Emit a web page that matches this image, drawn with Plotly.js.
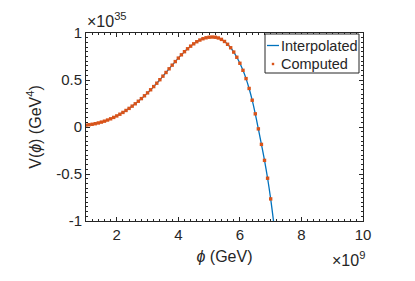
<!DOCTYPE html>
<html>
<head>
<meta charset="utf-8">
<script src="https://cdn.plot.ly/plotly-3.0.1.min.js"></script>
<style>
html,body{margin:0;padding:0;background:#fff;}
#chart{width:415px;height:281px;}
</style>
</head>
<body>
<div id="chart"></div>
<script>
// phi in units of 1e9 GeV, V in units of 1e35 GeV^4
const phi = [1.0,1.1,1.2,1.3,1.4,1.5,1.6,1.7,1.8,1.9,
             2.0,2.1,2.2,2.3,2.4,2.5,2.6,2.7,2.8,2.9,
             3.0,3.1,3.2,3.3,3.4,3.5,3.6,3.7,3.8,3.9,
             4.0,4.1,4.2,4.3,4.4,4.5,4.6,4.7,4.8,4.9,
             5.0,5.1,5.2,5.3,5.4,5.5,5.6,5.7,5.8,5.9,
             6.0,6.1,6.2,6.3,6.4,6.5,6.6,6.7,6.8,6.9,
             7.0,7.1];
const vComputed = [0.020,0.024,0.029,0.035,0.043,0.052,0.062,0.074,0.087,0.102,
                   0.118,0.136,0.155,0.176,0.198,0.222,0.247,0.274,0.302,0.332,
                   0.363,0.396,0.430,0.466,0.503,0.541,0.580,0.619,0.658,0.696,
                   0.733,0.768,0.801,0.832,0.860,0.885,0.907,0.925,0.939,0.949,
                   0.955,0.957,0.955,0.947,0.932,0.910,0.880,0.843,0.797,0.742,
                   0.678,0.603,0.515,0.410,0.285,0.140,-0.020,-0.185,-0.355,-0.545,
                   -0.765,-1.020];
const xTickVals = [2,4,6,8,10];
const xTickText = ['2','4','6','8','10'];
const yTickVals = [-1,-0.5,0,0.5,1];
const yTickText = ['-1','-0.5','0','0.5','1'];
const seriesNames = ['Interpolated','Computed'];

const BLUE = '#0072BD', ORANGE = '#D95319', INK = '#262626';
const FONT = 'Liberation Sans, Arial, Helvetica, sans-serif';

const traces = [
  {x: phi, y: vComputed, type: 'scatter', mode: 'lines', name: seriesNames[0],
   line: {color: BLUE, width: 1.3, shape: 'spline'}, showlegend: false},
  {x: phi, y: vComputed, type: 'scatter', mode: 'markers', name: seriesNames[1],
   marker: {color: ORANGE, size: 3.4, symbol: 'square', line: {width: 0}}, showlegend: false}
];

function px2x(p){ return (p-86)/277; }
function py2y(p){ return (221-p)/188; }

const layout = {
  width: 415, height: 281,
  margin: {l: 86, r: 52, t: 33, b: 60},
  paper_bgcolor: '#fff', plot_bgcolor: '#fff',
  font: {family: FONT, size: 15, color: INK},
  showlegend: false,
  xaxis: {
    range: [1, 10], showgrid: false, zeroline: false,
    showline: true, linecolor: INK, linewidth: 1, mirror: 'allticks',
    ticks: 'inside', ticklen: 4, tickcolor: INK, tickwidth: 1,
    tickvals: xTickVals, ticktext: xTickText,
    tickfont: {family: FONT, size: 15, color: INK},
    minor: {ticks: 'inside', ticklen: 2, dtick: 0.2, tickcolor: INK, tickwidth: 1, showgrid: false},
    title: {text: '<i>ϕ</i> (GeV)', font: {family: FONT, size: 16, color: INK}, standoff: 8}
  },
  yaxis: {
    range: [-1, 1], showgrid: false, zeroline: false,
    showline: true, linecolor: INK, linewidth: 1, mirror: 'allticks',
    ticks: 'inside', ticklen: 4, tickcolor: INK, tickwidth: 1,
    tickvals: yTickVals, ticktext: yTickText,
    tickfont: {family: FONT, size: 15, color: INK},
    minor: {ticks: 'inside', ticklen: 2, dtick: 0.05, tickcolor: INK, tickwidth: 1, showgrid: false},
    title: {text: 'V(<i>ϕ</i>) (GeV<sup>4</sup>)', font: {family: FONT, size: 16, color: INK}, standoff: 10}
  },
  shapes: [
    {type: 'rect', xref: 'paper', yref: 'paper',
     x0: px2x(265), x1: px2x(359), y0: py2y(73), y1: py2y(34),
     line: {color: INK, width: 1}, fillcolor: '#fff', layer: 'above'},
    {type: 'line', xref: 'paper', yref: 'paper',
     x0: px2x(267), x1: px2x(279), y0: py2y(45.5), y1: py2y(45.5),
     line: {color: BLUE, width: 1.3}, layer: 'above'},
    {type: 'rect', xref: 'paper', yref: 'paper',
     x0: px2x(271.8), x1: px2x(274.2), y0: py2y(65.2), y1: py2y(62.8),
     line: {color: ORANGE, width: 0}, fillcolor: ORANGE, layer: 'above'}
  ],
  annotations: [
    {text: seriesNames[0], xref: 'paper', yref: 'paper', x: px2x(279), y: py2y(45.5),
     xanchor: 'left', yanchor: 'middle', showarrow: false, font: {family: FONT, size: 14.5, color: INK}},
    {text: seriesNames[1], xref: 'paper', yref: 'paper', x: px2x(279), y: py2y(64),
     xanchor: 'left', yanchor: 'middle', showarrow: false, font: {family: FONT, size: 14.5, color: INK}},
    {text: '×10<sup>35</sup>', xref: 'paper', yref: 'paper', x: px2x(85), y: py2y(20),
     xanchor: 'left', yanchor: 'middle', showarrow: false, font: {family: FONT, size: 16, color: INK}},
    {text: '×10<sup>9</sup>', xref: 'paper', yref: 'paper', x: px2x(367), y: py2y(259),
     xanchor: 'right', yanchor: 'middle', showarrow: false, font: {family: FONT, size: 16, color: INK}}
  ]
};

Plotly.newPlot('chart', traces, layout, {staticPlot: true, displayModeBar: false});
</script>
</body>
</html>
